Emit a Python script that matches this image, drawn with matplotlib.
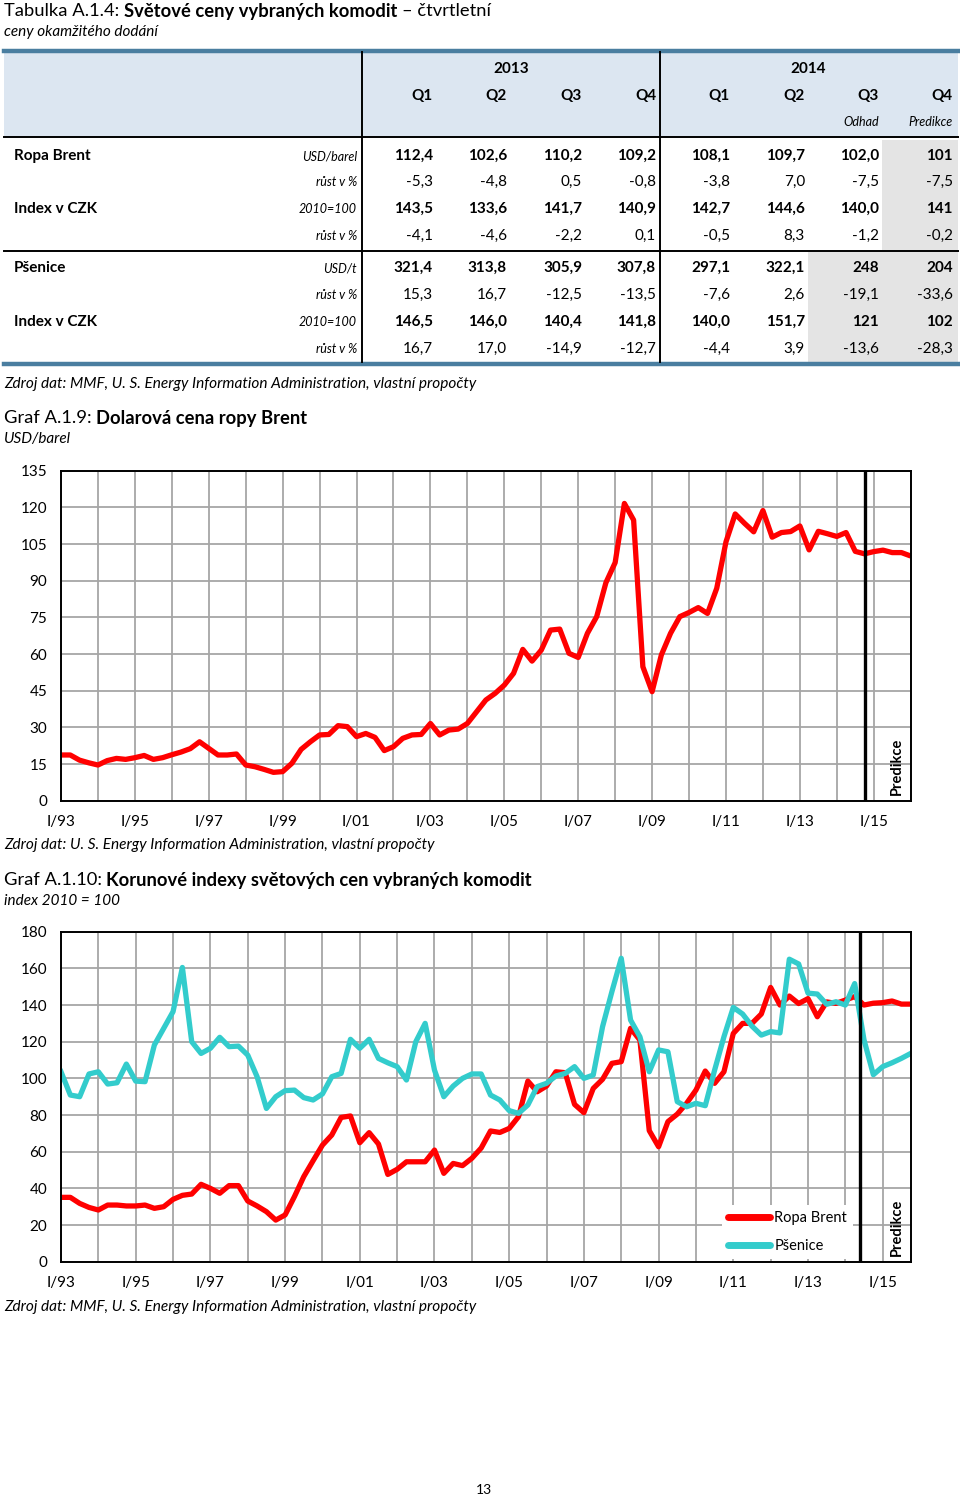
import numpy as np
import matplotlib
matplotlib.use('Agg')
import matplotlib.pyplot as plt
from matplotlib.patches import Rectangle
from matplotlib.lines import Line2D

plt.rcParams['font.family'] = ['Lato', 'DejaVu Sans']

# ---- table data ----
years_hdr = ['2013', '2014']
quarters_hdr = ['Q1', 'Q2', 'Q3', 'Q4', 'Q1', 'Q2', 'Q3', 'Q4']
row_names = ['Ropa Brent', '', 'Index v CZK', '', 'Pšenice', '', 'Index v CZK', '']
row_units = ['USD/barel', 'růst v %', '2010=100', 'růst v %',
             'USD/t', 'růst v %', '2010=100', 'růst v %']
oil_usd_tab = ['112,4', '102,6', '110,2', '109,2', '108,1', '109,7', '102,0', '101']
oil_usd_gr = ['-5,3', '-4,8', '0,5', '-0,8', '-3,8', '7,0', '-7,5', '-7,5']
oil_idx_tab = ['143,5', '133,6', '141,7', '140,9', '142,7', '144,6', '140,0', '141']
oil_idx_gr = ['-4,1', '-4,6', '-2,2', '0,1', '-0,5', '8,3', '-1,2', '-0,2']
wht_usd_tab = ['321,4', '313,8', '305,9', '307,8', '297,1', '322,1', '248', '204']
wht_usd_gr = ['15,3', '16,7', '-12,5', '-13,5', '-7,6', '2,6', '-19,1', '-33,6']
wht_idx_tab = ['146,5', '146,0', '140,4', '141,8', '140,0', '151,7', '121', '102']
wht_idx_gr = ['16,7', '17,0', '-14,9', '-12,7', '-4,4', '3,9', '-13,6', '-28,3']

# ---- chart data (quarterly, from I/93) ----
oil_usd = [18.7, 18.7, 16.6, 15.5, 14.6, 16.4, 17.3, 16.9, 17.6, 18.5,
           16.9, 17.6, 18.8, 19.9, 21.3, 24.1, 21.4, 18.7, 18.7, 19.1,
           14.6, 13.9, 12.8, 11.6, 11.9, 15.3, 21.0, 24.1, 26.9, 27.1,
           30.7, 30.3, 26.2, 27.5, 25.9, 20.5, 22.1, 25.5, 26.9, 27.1,
           31.6, 26.9, 28.9, 29.3, 31.6, 36.4, 41.2, 43.9, 47.3, 52.1,
           61.9, 57.1, 61.6, 69.8, 70.2, 60.3, 58.6, 68.5, 75.3, 89.2,
           97.4, 121.6, 114.8, 54.8, 44.6, 59.6, 68.5, 75.3, 77.0, 79.0,
           76.6, 86.9, 105.9, 117.3, 113.5, 110.0, 118.7, 107.8, 109.7, 110.1,
           112.4, 102.6, 110.2, 109.2, 108.1, 109.7, 102.0, 101.0, 101.9, 102.5,
           101.5, 101.5, 100.1]

oil_czk = [35.1, 35.1, 31.8, 29.6, 28.2, 30.9, 30.9, 30.4, 30.4, 30.9,
           29.1, 30.0, 34.0, 36.2, 36.9, 42.2, 40.0, 37.3, 41.5, 41.5,
           33.1, 30.4, 27.3, 22.7, 25.5, 35.5, 46.4, 55.1, 63.6, 69.1,
           78.7, 79.5, 64.9, 70.4, 64.2, 47.6, 50.4, 54.5, 54.5, 54.5,
           60.9, 48.2, 53.6, 52.4, 56.4, 62.0, 71.3, 70.5, 72.7, 79.1,
           98.5, 92.7, 95.8, 103.6, 103.1, 85.8, 81.3, 94.5, 99.5, 108.2,
           109.1, 127.3, 120.9, 71.5, 62.7, 76.4, 80.5, 86.4, 93.6, 104.0,
           97.3, 103.6, 124.5, 130.0, 130.0, 135.1, 149.6, 140.0, 144.9, 140.8,
           143.5, 133.6, 141.7, 140.9, 142.7, 144.6, 140.0, 141.0, 141.3, 142.2,
           140.5, 140.5]

wheat_czk = [103.6, 90.9, 90.0, 102.4, 103.6, 96.9, 97.6, 107.8, 98.5, 98.2,
             118.2, 127.3, 136.4, 160.5, 120.0, 113.6, 116.4, 122.4, 117.3, 117.6,
             112.7, 100.9, 83.6, 90.0, 93.3, 93.6, 89.5, 88.2, 91.5, 100.9,
             102.7, 121.3, 116.4, 121.3, 110.9, 108.5, 106.4, 99.1, 120.0, 130.0,
             104.5, 90.0, 95.8, 100.0, 102.4, 102.4, 90.9, 88.2, 82.4, 80.9,
             85.5, 95.5, 97.3, 101.3, 102.7, 106.4, 100.0, 101.8, 128.2, 147.3,
             165.5, 131.8, 122.7, 103.6, 115.5, 114.5, 87.3, 84.5, 86.4, 85.1,
             104.5, 122.7, 138.7, 135.1, 128.5, 123.6, 125.5, 124.8, 165.0, 162.4,
             146.5, 146.0, 140.4, 141.8, 140.0, 151.7, 121.0, 102.0, 106.4, 108.5,
             110.9, 113.6]

first_year = 1993

RED = '#ff0000'
CYAN = '#33cccc'
BLUE_LINE = '#4a7ea0'
HDR_BG = '#dce6f1'
SHADE = '#e4e4e4'
GRID = '#a6a6a6'

W, H = 960, 1496
fig = plt.figure(figsize=(W / 100, H / 100), dpi=100)
page = fig.add_axes([0, 0, 1, 1])
page.set_xlim(0, W)
page.set_ylim(H, 0)
page.axis('off')
renderer = fig.canvas.get_renderer()


def rich(x, y, parts, size, gap=4.5):
    # text made of pieces with different weights, laid out left to right
    for s, weight, style in parts:
        t = page.text(x, y, s, fontsize=size, fontweight=weight, style=style,
                      ha='left', va='center')
        bb = t.get_window_extent(renderer=renderer)
        x += bb.width + gap


# ---- table ----
rich(4, 11, [('Tabulka A.1.4:', 'normal', 'normal'),
             ('Světové ceny vybraných komodit', 'bold', 'normal'),
             ('– čtvrtletní', 'normal', 'normal')], 13.2)
page.text(4, 32, 'ceny okamžitého dodání', fontsize=11, style='italic', va='center')

page.add_patch(Rectangle((4, 52), 954, 85, color=HDR_BG, lw=0))
col_right = [433, 507, 582, 656, 730, 805, 879, 953]
row_y = [156, 182, 209, 236, 268, 295, 322, 349]

# shaded forecast cells
page.add_patch(Rectangle((882, 140), 76, 110, color=SHADE, lw=0))
page.add_patch(Rectangle((808, 252), 150, 110, color=SHADE, lw=0))

page.add_line(Line2D([4, 958], [50.5, 50.5], color=BLUE_LINE, lw=3.2))
page.add_line(Line2D([4, 958], [363.5, 363.5], color=BLUE_LINE, lw=3.2))
page.add_line(Line2D([4, 958], [137, 137], color='black', lw=1.4))
page.add_line(Line2D([4, 958], [251, 251], color='black', lw=1.4))
for vx in (362, 660):
    page.add_line(Line2D([vx, vx], [52, 362], color='black', lw=1.4))

page.text(511, 69, years_hdr[0], fontsize=11, fontweight='bold', ha='center', va='center')
page.text(808, 69, years_hdr[1], fontsize=11, fontweight='bold', ha='center', va='center')
for q, xr in zip(quarters_hdr, col_right):
    page.text(xr, 96, q, fontsize=11, fontweight='bold', ha='right', va='center')
page.text(col_right[6], 122, 'Odhad', fontsize=9, style='italic', ha='right', va='center')
page.text(col_right[7], 122, 'Predikce', fontsize=9, style='italic', ha='right', va='center')

table_rows = [oil_usd_tab, oil_usd_gr, oil_idx_tab, oil_idx_gr,
              wht_usd_tab, wht_usd_gr, wht_idx_tab, wht_idx_gr]
for i, (name, unit, vals, yy) in enumerate(zip(row_names, row_units, table_rows, row_y)):
    bold = 'bold' if i % 2 == 0 else 'normal'
    if name:
        page.text(14, yy, name, fontsize=11, fontweight='bold', va='center')
    page.text(357, yy, unit, fontsize=9, style='italic', ha='right', va='center')
    for v, xr in zip(vals, col_right):
        page.text(xr, yy, v, fontsize=11, fontweight=bold, ha='right', va='center')

src_full = 'Zdroj dat: MMF, U. S. Energy Information Administration, vlastní propočty'
page.text(4, 384, src_full, fontsize=11.1, style='italic', va='center')

# ---- chart 1 ----
rich(4, 418, [('Graf A.1.9:', 'normal', 'normal'),
              ('Dolarová cena ropy Brent', 'bold', 'normal')], 13.2)
page.text(4, 439, 'USD/barel', fontsize=11, style='italic', va='center')


def style_axes(ax, n_points, ymax, ystep):
    ax.set_xlim(0, n_points - 1)
    ax.set_ylim(0, ymax)
    ax.set_yticks(np.arange(0, ymax + 1, ystep))
    ticks = np.arange(0, n_points, 4)
    ax.set_xticks(ticks)
    labels = []
    for k, t in enumerate(ticks):
        yr = (first_year + t // 4) % 100
        labels.append('I/%02d' % yr if k % 2 == 0 else '')
    ax.set_xticklabels(labels)
    ax.grid(True, color=GRID, lw=1.3)
    ax.set_axisbelow(True)
    for sp in ax.spines.values():
        sp.set_color('black')
        sp.set_linewidth(1.4)
    ax.tick_params(length=0, labelsize=11)
    ax.tick_params(axis='y', pad=10)
    ax.tick_params(axis='x', pad=10)


ax1 = fig.add_axes([61 / W, 1 - 800.7 / H, 849.7 / W, 330 / H])
x1 = np.arange(len(oil_usd))
ax1.plot(x1, oil_usd, color=RED, lw=3.8, solid_joinstyle='round', solid_capstyle='butt')
style_axes(ax1, len(oil_usd), 135, 15)
ax1.axvline(87, color='black', lw=2.4)
ax1.text(90.5, 2.3, 'Predikce', rotation=90, fontsize=10.5, fontweight='bold',
         ha='center', va='bottom')

page.text(4, 845, 'Zdroj dat: U. S. Energy Information Administration, vlastní propočty',
          fontsize=11.1, style='italic', va='center')

# ---- chart 2 ----
rich(4, 880, [('Graf A.1.10:', 'normal', 'normal'),
              ('Korunové indexy světových cen vybraných komodit', 'bold', 'normal')], 13.2)
page.text(4, 901, 'index 2010 = 100', fontsize=11, style='italic', va='center')

ax2 = fig.add_axes([61 / W, 1 - 1261.7 / H, 849.7 / W, 330 / H])
x2 = np.arange(len(oil_czk))
ax2.plot(x2, oil_czk, color=RED, lw=3.8, solid_joinstyle='round', label='Ropa Brent')
ax2.plot(x2, wheat_czk, color=CYAN, lw=3.8, solid_joinstyle='round', label='Pšenice')
style_axes(ax2, len(oil_czk), 180, 20)
ax2.axvline(85.6, color='black', lw=2.4)
ax2.text(89.5, 3, 'Predikce', rotation=90, fontsize=10.5, fontweight='bold',
         ha='center', va='bottom')
leg = ax2.legend(loc='upper left', bbox_to_anchor=(722 / W, 1 - 1205 / H),
                 bbox_transform=fig.transFigure, frameon=True, fancybox=False,
                 edgecolor='none', facecolor='white', framealpha=1,
                 fontsize=10.5, handlelength=2.9, handletextpad=0.3,
                 labelspacing=0.95, borderpad=0.4, borderaxespad=0)
for ln in leg.get_lines():
    ln.set_linewidth(5)
    ln.set_solid_capstyle('round')

page.text(4, 1307, src_full, fontsize=11.1, style='italic', va='center')
page.text(484, 1490, '13', fontsize=10, ha='center', va='center')

fig.savefig('out.png', dpi=100)
